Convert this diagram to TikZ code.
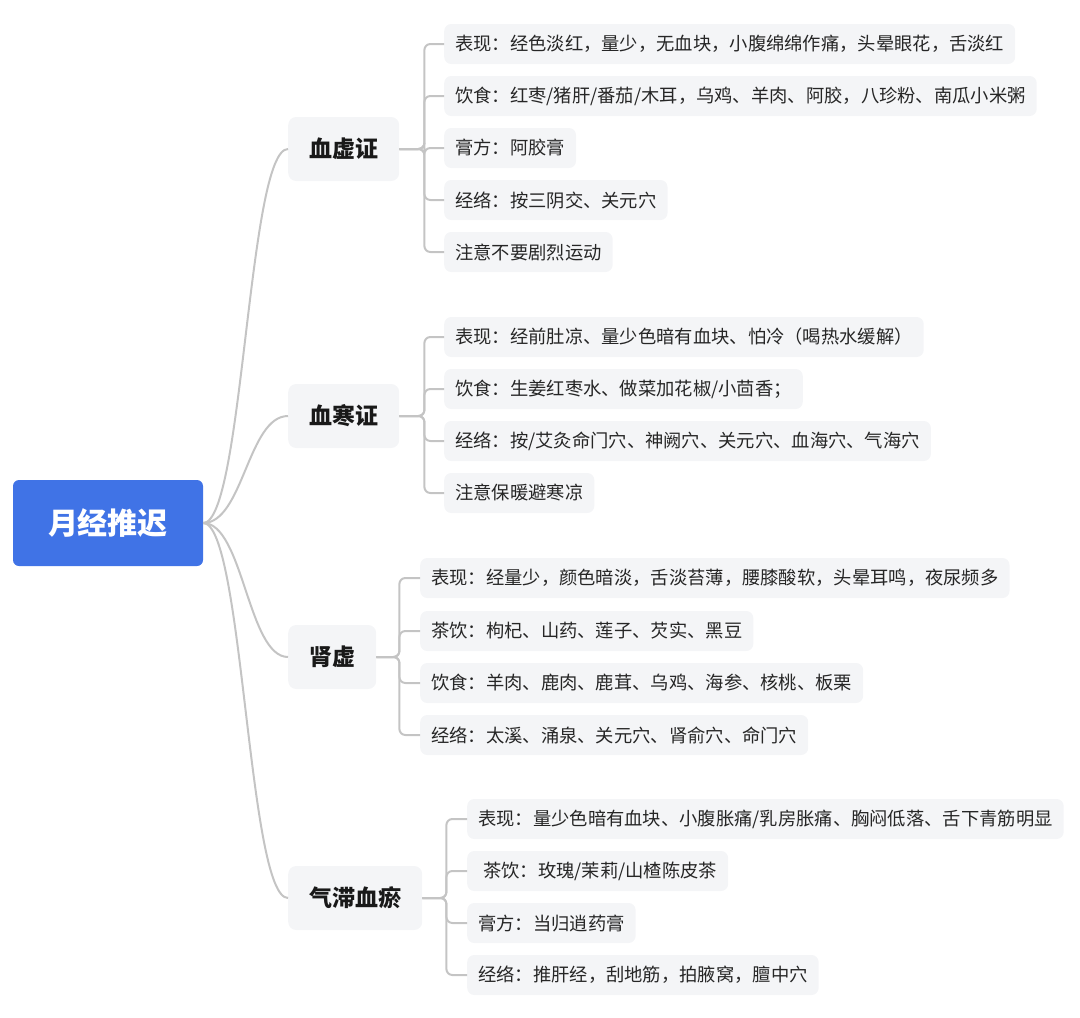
\documentclass[tikz,border=0pt]{standalone}
\usepackage{fontspec}
\setmainfont{Noto Sans CJK SC}
\definecolor{rootblue}{RGB}{64,115,230}
\definecolor{boxgray}{RGB}{244,245,247}
\definecolor{linegray}{RGB}{196,196,196}
\tikzset{
  rootbox/.style={fill=rootblue, rounded corners=6pt, minimum width=190pt, minimum height=86pt,
    text=white, font=\fontsize{30}{30}\selectfont\bfseries, inner sep=0pt},
  branchbox/.style={fill=boxgray, rounded corners=8pt, minimum height=64pt, inner xsep=21pt,
    anchor=west, font=\fontsize{23}{23}\selectfont\bfseries, text=black!90},
  leafbox/.style={fill=boxgray, rounded corners=7pt, minimum height=40pt, inner xsep=11pt,
    anchor=west, font=\fontsize{18.3}{18.3}\selectfont, text=black!85},
  conn/.style={draw=linegray, line width=2pt},
  bracket/.style={conn, rounded corners=6pt},
}
\begin{document}
\begin{tikzpicture}[x=1pt,y=-1pt]
\useasboundingbox (0,0) rectangle (1080,1018);
\node[rootbox] (root) at (108,523) {月经推迟};

\node[branchbox] (b1) at (288,149) {血虚证};
\node[branchbox] (b2) at (288,416) {血寒证};
\node[branchbox] (b3) at (288,657) {肾虚};
\node[branchbox] (b4) at (288,898) {气滞血瘀};

\foreach \b in {b1,b2,b3,b4}
  \draw[conn] (root.east) .. controls +(40,0) and +(-40,0) .. (\b.west);

% group 1
\node[leafbox] (l11) at (444,44) {表现：经色淡红，量少，无血块，小腹绵绵作痛，头晕眼花，舌淡红};
\node[leafbox] (l12) at (444,96) {饮食：红枣/猪肝/番茄/木耳，乌鸡、羊肉、阿胶，八珍粉、南瓜小米粥};
\node[leafbox] (l13) at (444,148) {膏方：阿胶膏};
\node[leafbox] (l14) at (444,200) {经络：按三阴交、关元穴};
\node[leafbox] (l15) at (444,252) {注意不要剧烈运动};
\foreach \l in {l11,l12,l13,l14,l15}
  \draw[bracket] (b1.east) -- ++(25,0) |- (\l.west);

% group 2
\node[leafbox] (l21) at (444,337) {表现：经前肚凉、量少色暗有血块、怕冷（喝热水缓解）};
\node[leafbox] (l22) at (444,389) {饮食：生姜红枣水、做菜加花椒/小茴香；};
\node[leafbox] (l23) at (444,441) {经络：按/艾灸命门穴、神阙穴、关元穴、血海穴、气海穴};
\node[leafbox] (l24) at (444,493) {注意保暖避寒凉};
\foreach \l in {l21,l22,l23,l24}
  \draw[bracket] (b2.east) -- ++(25,0) |- (\l.west);

% group 3
\node[leafbox] (l31) at (420,578) {表现：经量少，颜色暗淡，舌淡苔薄，腰膝酸软，头晕耳鸣，夜尿频多};
\node[leafbox] (l32) at (420,631) {茶饮：枸杞、山药、莲子、芡实、黑豆};
\node[leafbox] (l33) at (420,683) {饮食：羊肉、鹿肉、鹿茸、乌鸡、海参、核桃、板栗};
\node[leafbox] (l34) at (420,735) {经络：太溪、涌泉、关元穴、肾俞穴、命门穴};
\foreach \l in {l31,l32,l33,l34}
  \draw[bracket] (b3.east) -- ++(23,0) |- (\l.west);

% group 4
\node[leafbox] (l41) at (467,819) {表现：量少色暗有血块、小腹胀痛/乳房胀痛、胸闷低落、舌下青筋明显};
\node[leafbox] (l42) at (467,871) {\hspace*{5pt}茶饮：玫瑰/茉莉/山楂陈皮茶};
\node[leafbox] (l43) at (467,923) {膏方：当归逍药膏};
\node[leafbox] (l44) at (467,975) {经络：推肝经，刮地筋，拍腋窝，膻中穴};
\foreach \l in {l41,l42,l43,l44}
  \draw[bracket] (b4.east) -- ++(24,0) |- (\l.west);
\end{tikzpicture}
\end{document}
